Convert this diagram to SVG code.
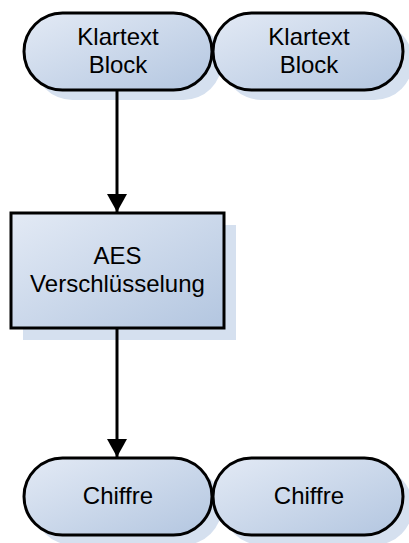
<svg xmlns="http://www.w3.org/2000/svg" width="409" height="543" viewBox="0 0 409 543">
  <defs>
    <linearGradient id="fillGrad" x1="0" y1="0" x2="1" y2="1">
      <stop offset="0" stop-color="#e3eaf5"/>
      <stop offset="1" stop-color="#b3c6e0"/>
    </linearGradient>
    <marker id="arrow" viewBox="0 0 18 20" refX="18" refY="10" markerWidth="18" markerHeight="20" markerUnits="userSpaceOnUse" orient="auto">
      <path d="M0,0 L18,10 L0,20 Z" fill="#000"/>
    </marker>
  </defs>
  <style>
    .shape { fill: url(#fillGrad); stroke: #000; stroke-width: 3; }
    .shadow { fill: #d5e0ef; }
    .label { font-family: "Liberation Sans", Arial, sans-serif; font-size: 24px; fill: #000; text-anchor: middle; }
    .edge { fill: none; stroke: #000; stroke-width: 3; }
  </style>
  <rect width="409" height="543" fill="#fff"/>

  <!-- shadows -->
  <g id="shadows">
    <rect class="shadow" x="34" y="23" width="188" height="77" rx="38.5"/>
    <rect class="shadow" x="223" y="23" width="190" height="77" rx="38.5"/>
    <rect class="shadow" x="23" y="225" width="213" height="115"/>
    <rect class="shadow" x="34" y="468" width="188" height="77" rx="38.5"/>
    <rect class="shadow" x="223" y="468" width="190" height="77" rx="38.5"/>
  </g>

  <g id="connectors">
    <path class="edge" d="M117,90 V212" marker-end="url(#arrow)"/>
    <path class="edge" d="M117,328 V457" marker-end="url(#arrow)"/>
  </g>

  <g id="plain1">
    <rect class="shape" x="24" y="13" width="188" height="77" rx="38.5"/>
    <text class="label" x="118" y="45">Klartext</text>
    <text class="label" x="118" y="73">Block</text>
  </g>
  <g id="plain2">
    <rect class="shape" x="213" y="13" width="190" height="77" rx="38.5"/>
    <text class="label" x="309" y="45">Klartext</text>
    <text class="label" x="309" y="73">Block</text>
  </g>
  <g id="aes">
    <rect class="shape" x="11" y="213" width="213" height="115"/>
    <text class="label" x="117.5" y="264">AES</text>
    <text class="label" x="117.5" y="292">Verschlüsselung</text>
  </g>
  <g id="cipher1">
    <rect class="shape" x="24" y="458" width="188" height="77" rx="38.5"/>
    <text class="label" x="118" y="504">Chiffre</text>
  </g>
  <g id="cipher2">
    <rect class="shape" x="213" y="458" width="190" height="77" rx="38.5"/>
    <text class="label" x="309" y="504">Chiffre</text>
  </g>
</svg>
